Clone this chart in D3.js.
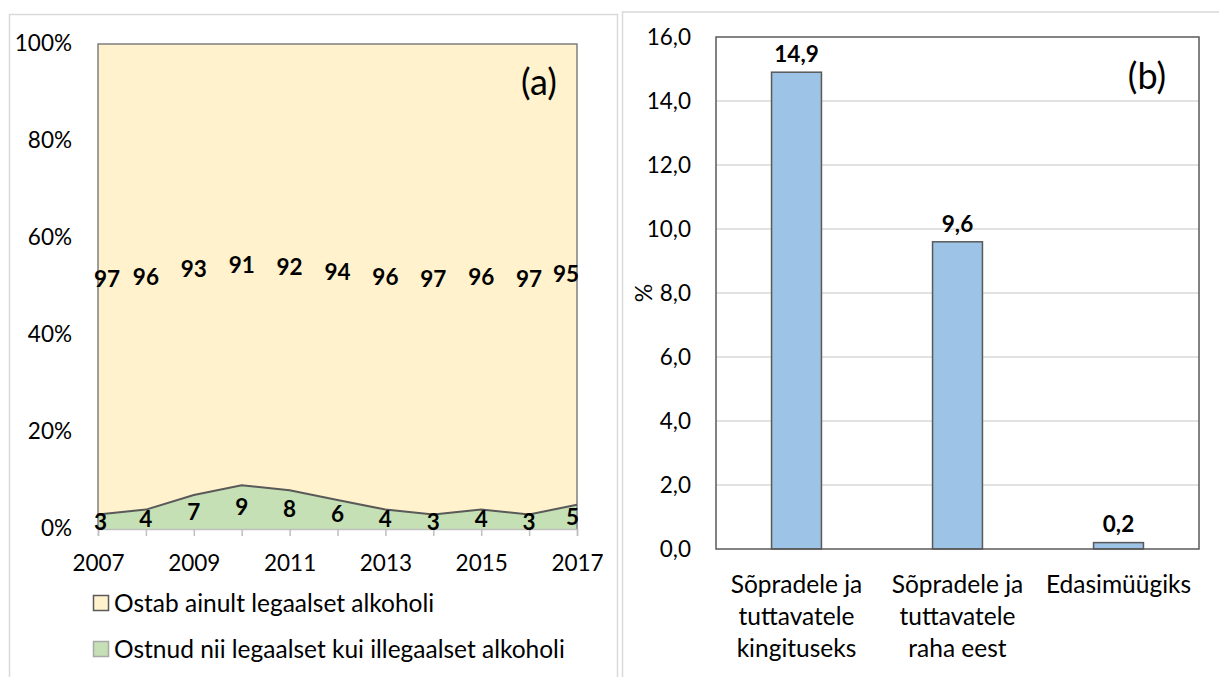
<!DOCTYPE html>
<html>
<head>
<meta charset="utf-8">
<script src="https://cdn.jsdelivr.net/npm/d3@7"></script>
<style>
  html, body { margin: 0; padding: 0; background: #fff; }
  svg { display: block; }
  text { font-family: Lato, "Open Sans", sans-serif; fill: #000; }
</style>
</head>
<body>
<div id="chart"></div>
<script>
// (a) andmed
const years = [2007, 2008, 2009, 2010, 2011, 2012, 2013, 2014, 2015, 2016, 2017];
const legalOnly = [97, 96, 93, 91, 92, 94, 96, 97, 96, 97, 95];
const mixedBuyers = [3, 4, 7, 9, 8, 6, 4, 3, 4, 3, 5];
const seriesNames = ["Ostab ainult legaalset alkoholi", "Ostnud nii legaalset kui illegaalset alkoholi"];
const yTicksA = [0, 20, 40, 60, 80, 100];
const xLabelYears = [2007, 2009, 2011, 2013, 2015, 2017];

// (b) andmed
const categoriesB = [
  ["Sõpradele ja", "tuttavatele", "kingituseks"],
  ["Sõpradele ja", "tuttavatele", "raha eest"],
  ["Edasimüügiks"]
];
const valuesB = [14.9, 9.6, 0.2];
const yTicksB = [0, 2, 4, 6, 8, 10, 12, 14, 16];

const W = 1219, H = 677;
const NUM = "22.5px", TXT = "24.5px";
const svg = d3.select("#chart").append("svg")
  .attr("width", W).attr("height", H);

const commaFmt = v => d3.format(".1f")(v).replace(".", ",");

// paneelide raamid
svg.append("rect").attr("x", 9.5).attr("y", 14.5).attr("width", 608).attr("height", 700)
  .attr("fill", "none").attr("stroke", "#d9d9d9").attr("stroke-width", 1.5);
svg.append("rect").attr("x", 622.5).attr("y", 12).attr("width", 620).attr("height", 700)
  .attr("fill", "none").attr("stroke", "#d9d9d9").attr("stroke-width", 1.5);

// ---------- (a) ----------
function drawPanelA() {
  const x0 = 98, x1 = 577, y0 = 44, y1 = 529;
  const x = d3.scaleLinear().domain([years[0], years[years.length - 1]]).range([x0, x1]);
  const y = d3.scaleLinear().domain([0, 100]).range([y1, y0]);

  const rows = years.map((yr, i) => ({ year: yr, mixed: mixedBuyers[i], legal: legalOnly[i] }));
  const stack = d3.stack().keys(["mixed", "legal"]);
  const series = stack(rows);
  const fills = { mixed: "#c5e0b4", legal: "#fff2cc" };

  const area = d3.area()
    .x(d => x(d.data.year))
    .y0(d => y(d[0]))
    .y1(d => y(d[1]));

  const g = svg.append("g");
  g.selectAll("path.area").data(series).enter().append("path")
    .attr("class", "area")
    .attr("d", area)
    .attr("fill", d => fills[d.key]);

  // plot border
  g.append("path")
    .attr("d", `M${x0},${y1}V${y0}H${x1}V${y1}`)
    .attr("fill", "none").attr("stroke", "#7f7f7f").attr("stroke-width", 1.5);

  // boundary line
  const line = d3.line().x(d => x(d.data.year)).y(d => y(d[1]));
  g.append("path").datum(series[0])
    .attr("d", line)
    .attr("fill", "none").attr("stroke", "#595959").attr("stroke-width", 2);

  // x axis
  const xAxis = d3.axisBottom(x).tickValues(years).tickSize(7)
    .tickFormat(d => xLabelYears.includes(d) ? d : "");
  const ax = g.append("g").attr("transform", `translate(0,${y1})`).call(xAxis);
  ax.select(".domain").attr("stroke", "#bfbfbf").attr("stroke-width", 1.5);
  ax.selectAll(".tick line").attr("stroke", "#bfbfbf").attr("stroke-width", 1.5);
  ax.selectAll(".tick text").attr("y", 34).attr("dy", "0.35em")
    .style("font-size", NUM).style("font-family", "Lato, sans-serif").attr("fill", "#000");

  // y axis labels
  g.selectAll("text.ylab").data(yTicksA).enter().append("text")
    .attr("class", "ylab")
    .attr("x", 72).attr("y", d => y(d) - 1).attr("dy", "0.35em")
    .attr("text-anchor", "end").style("font-size", NUM)
    .text(d => d + "%");

  // data labels
  series.forEach(s => {
    g.selectAll(null).data(s).enter().append("text")
      .attr("x", (d, i) => i === 0 ? x0 - 4 : (i === s.length - 1 ? x1 + 2 : x(d.data.year)))
      .attr("text-anchor", (d, i) => i === 0 ? "start" : (i === s.length - 1 ? "end" : "middle"))
      .attr("y", d => (y(d[0]) + y(d[1])) / 2)
      .attr("dy", "0.35em")
      .style("font-size", NUM).style("font-weight", "bold")
      .text(d => d[1] - d[0]);
  });

  g.append("text").attr("x", 539).attr("y", 82).attr("dy", "0.35em")
    .attr("text-anchor", "middle").style("font-size", "36px").text("(a)");

  // legend
  const legend = g.selectAll("g.leg").data([
    { name: seriesNames[0], fill: fills.legal, stroke: "#595959" },
    { name: seriesNames[1], fill: fills.mixed, stroke: "#a9a9a9" }
  ]).enter().append("g").attr("class", "leg")
    .attr("transform", (d, i) => `translate(93,${603 + i * 46})`);
  legend.append("rect").attr("x", 0.5).attr("y", -7.5).attr("width", 15).attr("height", 15)
    .attr("fill", d => d.fill).attr("stroke", d => d.stroke).attr("stroke-width", 1.5);
  legend.append("text").attr("x", 21).attr("dy", "0.35em")
    .style("font-size", TXT).text(d => d.name);
}

// ---------- (b) ----------
function drawPanelB() {
  const x0 = 716, x1 = 1199, y0 = 37, y1 = 549;
  const x = d3.scaleBand().domain(d3.range(valuesB.length)).range([x0, x1]).paddingInner(0.69).paddingOuter(0.345);
  const y = d3.scaleLinear().domain([0, 16]).range([y1, y0]);

  const g = svg.append("g");

  g.selectAll("line.grid").data(yTicksB.slice(1, -1)).enter().append("line")
    .attr("class", "grid")
    .attr("x1", x0).attr("x2", x1)
    .attr("y1", d => y(d)).attr("y2", d => y(d))
    .attr("stroke", "#d9d9d9").attr("stroke-width", 1.5);

  g.selectAll("rect.bar").data(valuesB).enter().append("rect")
    .attr("class", "bar")
    .attr("x", (d, i) => x(i)).attr("width", x.bandwidth())
    .attr("y", d => y(d)).attr("height", d => y1 - y(d))
    .attr("fill", "#9dc3e6").attr("stroke", "#595959").attr("stroke-width", 1.5);

  g.append("rect").attr("x", x0).attr("y", y0).attr("width", x1 - x0).attr("height", y1 - y0)
    .attr("fill", "none").attr("stroke", "#595959").attr("stroke-width", 1.5);

  g.selectAll("text.val").data(valuesB).enter().append("text")
    .attr("class", "val")
    .attr("x", (d, i) => x(i) + x.bandwidth() / 2)
    .attr("y", d => y(d) - 18).attr("dy", "0.35em")
    .attr("text-anchor", "middle")
    .style("font-size", NUM).style("font-weight", "bold")
    .text(d => commaFmt(d));

  g.selectAll("text.ylab").data(yTicksB).enter().append("text")
    .attr("class", "ylab")
    .attr("x", 691).attr("y", d => y(d)).attr("dy", "0.35em")
    .attr("text-anchor", "end").style("font-size", NUM)
    .text(d => commaFmt(d));

  g.append("text")
    .attr("transform", `translate(644,${y(8)}) rotate(-90)`)
    .attr("dy", "0.35em").attr("text-anchor", "middle")
    .style("font-size", "23px").text("%");

  const cat = g.selectAll("text.cat").data(categoriesB).enter().append("text")
    .attr("class", "cat")
    .attr("x", (d, i) => x(i) + x.bandwidth() / 2)
    .attr("y", 584)
    .attr("text-anchor", "middle").style("font-size", TXT);
  cat.selectAll("tspan").data(d => d).enter().append("tspan")
    .attr("x", function () { return this.parentNode.getAttribute("x"); })
    .attr("dy", (d, i) => i === 0 ? "0.35em" : "32px")
    .text(d => d);

  g.append("text").attr("x", 1147).attr("y", 76).attr("dy", "0.35em")
    .attr("text-anchor", "middle").style("font-size", "36px").text("(b)");
}

drawPanelA();
drawPanelB();
</script>
</body>
</html>
